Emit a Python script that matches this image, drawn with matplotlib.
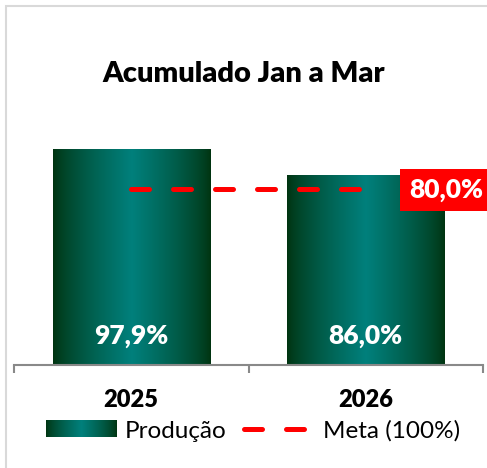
import numpy as np
import matplotlib
matplotlib.use("Agg")
import matplotlib.pyplot as plt
from matplotlib.colors import ListedColormap
from matplotlib.legend_handler import HandlerBase
from matplotlib.image import BboxImage
from matplotlib.transforms import Bbox, TransformedBbox
from matplotlib.patches import Rectangle, Patch
from matplotlib.lines import Line2D

plt.rcParams['font.family'] = ['Lato', 'DejaVu Sans']

# ---- data ----
categories = ['2025', '2026']
producao = [97.9, 86.0]
producao_labels = ['97,9%', '86,0%']
meta = [80.0, 80.0]
meta_label = '80,0%'
title = 'Acumulado Jan a Mar'
legend_labels = ['Produção', 'Meta (100%)']

W, H = 487, 468
fig = plt.figure(figsize=(W / 100, H / 100), dpi=100)

dark = np.array([0, 51, 15]) / 255
teal = np.array([0, 128, 124]) / 255
u = np.linspace(0, 1, 256)
t = (1 - np.abs(2 * u - 1)) ** 0.75
cmap = ListedColormap(dark[None, :] + (teal - dark)[None, :] * t[:, None])
grad = np.linspace(0, 1, 256).reshape(1, -1)

BOLD = 'heavy'

ax = fig.add_axes([14 / W, 1 - 365 / H, (483 - 14) / W, (365 - 145) / H])
ax.set_xlim(-0.5, 1.5)
ax.set_ylim(0, 100)
x = np.arange(len(categories))
bars = ax.bar(x, producao, width=0.67, color='none', zorder=2)
for b, lab in zip(bars, producao_labels):
    x0, y0 = b.get_x(), b.get_y()
    ax.imshow(grad, cmap=cmap, aspect='auto', interpolation='bilinear',
              extent=[x0, x0 + b.get_width(), y0, y0 + b.get_height()], zorder=2)
    ax.text(x0 + b.get_width() / 2, 13.0, lab, ha='center', va='center',
            color='white', fontsize=19, fontweight=BOLD, zorder=4)
ax.set_xlim(-0.5, 1.5)
ax.set_ylim(0, 100)

ax.plot(x, meta, color='#ff0000', lw=3.6, linestyle=(0, (3.6, 4.8)),
        dash_capstyle='round', zorder=3)
ax.annotate(meta_label, xy=(x[-1], meta[-1]), xytext=(80, -1),
            textcoords='offset pixels', ha='center', va='center',
            color='white', fontsize=19, fontweight=BOLD, zorder=5,
            bbox=dict(boxstyle='square,pad=0.33', fc='#ff0000', ec='none'),
            annotation_clip=False)

for s in ['top', 'right', 'left']:
    ax.spines[s].set_visible(False)
ax.spines['bottom'].set_color('#898989')
ax.spines['bottom'].set_linewidth(1.5)
ax.set_yticks([])
ax.set_xticks([-0.5, 0.5, 1.5])
ax.set_xticklabels([])
ax.tick_params(axis='x', length=6, width=1.5, color='#898989')
for xi, c in zip(x, categories):
    ax.text(xi, -16, c, ha='center', va='center', fontsize=17,
            fontweight=BOLD, color='black', transform=ax.transData)

fig.text(244 / W, 1 - 74 / H, title, ha='center', va='center',
         fontsize=21, fontweight=BOLD, color='black')


class GradHandler(HandlerBase):
    def create_artists(self, legend, orig_handle, xdescent, ydescent,
                       width, height, fontsize, trans):
        bb = Bbox.from_bounds(-xdescent, -ydescent, width, height)
        img = BboxImage(TransformedBbox(bb, trans), cmap=cmap,
                        interpolation='bilinear')
        img.set_data(grad)
        return [img]


h1 = Patch(facecolor='#008078')
h2 = Line2D([0], [0], color='#ff0000', lw=3.6, linestyle=(0, (3.6, 4.8)),
            dash_capstyle='round')
fig.legend([h1, h2], legend_labels, loc='center', bbox_to_anchor=(253 / W, 1 - 431 / H),
           ncol=2, frameon=False, fontsize=17.5, handlelength=2.9,
           handleheight=0.65, handletextpad=0.35, columnspacing=0.7,
           handler_map={Patch: GradHandler()})

fig.patches.append(Rectangle((6 / W, -0.1), 1.2, 1 - 6 / H + 0.1,
                             transform=fig.transFigure, fill=False,
                             ec='#d9d9d9', lw=1.5, zorder=0))

fig.savefig('out.png', dpi=100)
